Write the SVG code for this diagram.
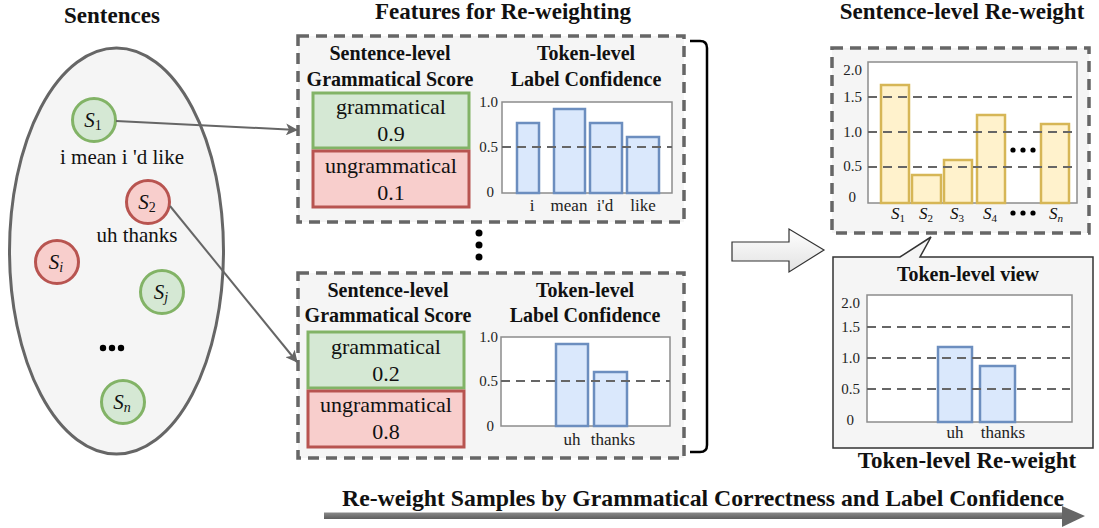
<svg xmlns="http://www.w3.org/2000/svg" width="1099" height="528" viewBox="0 0 1099 528">
  <style>
    .title { font-family: "Liberation Serif", "Times New Roman", serif; font-weight: bold; font-size: 23px; fill: #111; text-anchor: middle; }
    .head { font-family: "Liberation Serif", "Times New Roman", serif; font-weight: bold; font-size: 20px; fill: #111; text-anchor: middle; }
    .body { font-family: "Liberation Serif", "Times New Roman", serif; font-size: 22px; fill: #111; text-anchor: middle; }
    .sent { font-family: "Liberation Serif", "Times New Roman", serif; font-size: 21px; fill: #111; text-anchor: middle; }
    .tick { font-family: "Liberation Serif", "Times New Roman", serif; font-size: 15px; fill: #222; text-anchor: end; }
    .tok { font-family: "Liberation Serif", "Times New Roman", serif; font-size: 17px; fill: #222; text-anchor: middle; }
    .math { font-family: "Liberation Serif", "Times New Roman", serif; font-style: italic; fill: #111; text-anchor: middle; }
    .sub { font-style: normal; }
    .good { fill: #d5e8d4; stroke: #82b366; stroke-width: 3; }
    .bad { fill: #f8cecc; stroke: #b85450; stroke-width: 3; }
    .panel { fill: #f5f5f5; stroke: #666; stroke-width: 3.5; stroke-dasharray: 11 7; }
    .frame { fill: #fff; stroke: #8c8c8c; stroke-width: 1.5; }
    .grid { stroke: #666; stroke-width: 2; stroke-dasharray: 9 6; fill: none; }
    .bar { fill: #dae8fc; stroke: #6c8ebf; stroke-width: 2.5; }
    .wbar { fill: #fff2cc; stroke: #d6b656; stroke-width: 2.5; }
    .link { stroke: #666; stroke-width: 2; fill: none; }
    .dot { fill: #000; }
  </style>
  <defs>
    <marker id="head" viewBox="0 0 12 12" refX="11" refY="6" markerWidth="12" markerHeight="12" markerUnits="userSpaceOnUse" orient="auto">
      <path d="M0,0 L12,6 L0,12 L3,6 Z" fill="#666"/>
    </marker>
    <linearGradient id="blockFill" x1="0" y1="0" x2="0" y2="1">
      <stop offset="0" stop-color="#ffffff"/>
      <stop offset="1" stop-color="#e2e2e2"/>
    </linearGradient>
    <linearGradient id="flowFill" x1="0" y1="0" x2="0" y2="1">
      <stop offset="0" stop-color="#8a8a8a"/>
      <stop offset="1" stop-color="#5e5e5e"/>
    </linearGradient>
  </defs>

  <!-- Sentence pool -->
  <g id="sentences">
    <text class="title" x="112" y="23">Sentences</text>
    <ellipse cx="116.5" cy="251" rx="107" ry="203" fill="#f5f5f5" stroke="#666" stroke-width="3"/>
    <text class="sent" x="122" y="164">i mean i 'd like</text>
    <text class="sent" x="137" y="242">uh thanks</text>
    <circle class="dot" cx="103" cy="348" r="3.2"/>
    <circle class="dot" cx="112" cy="348" r="3.2"/>
    <circle class="dot" cx="121" cy="348" r="3.2"/>
  </g>
  <g id="s1">
    <circle class="good" cx="94" cy="120" r="21.5"/>
    <text class="math" x="93" y="127" font-size="21">S<tspan class="sub" font-size="14" dy="3">1</tspan></text>
  </g>
  <g id="s2">
    <circle class="bad" cx="148" cy="202" r="21.5"/>
    <text class="math" x="147" y="209" font-size="21">S<tspan class="sub" font-size="14" dy="3">2</tspan></text>
  </g>
  <g id="si">
    <circle class="bad" cx="57" cy="262" r="21.5"/>
    <text class="math" x="56" y="269" font-size="21">S<tspan font-size="14" dy="3">i</tspan></text>
  </g>
  <g id="sj">
    <circle class="good" cx="162" cy="292" r="21.5"/>
    <text class="math" x="161" y="299" font-size="21">S<tspan font-size="14" dy="3">j</tspan></text>
  </g>
  <g id="sn">
    <circle class="good" cx="123" cy="402" r="21.5"/>
    <text class="math" x="122" y="409" font-size="21">S<tspan font-size="14" dy="3">n</tspan></text>
  </g>

  <!-- Feature panels -->
  <text class="title" x="503" y="19">Features for Re-weighting</text>
  <g id="features-s1">
    <rect class="panel" x="298" y="36" width="386" height="186"/>
    <text class="head" x="390" y="60">Sentence-level</text>
    <text class="head" x="390" y="86">Grammatical Score</text>
    <text class="head" x="586" y="60">Token-level</text>
    <text class="head" x="586" y="86">Label Confidence</text>
    <rect class="good" x="313" y="93" width="156" height="55"/>
    <text class="body" x="391" y="114">grammatical</text>
    <text class="body" x="391" y="141">0.9</text>
    <rect class="bad" x="313" y="151" width="156" height="56"/>
    <text class="body" x="391" y="173">ungrammatical</text>
    <text class="body" x="391" y="200">0.1</text>
    <rect class="frame" x="502" y="102" width="170" height="91"/>
    <rect class="bar" x="517" y="123" width="22" height="70"/>
    <rect class="bar" x="554" y="109" width="31" height="84"/>
    <rect class="bar" x="590" y="123" width="32" height="70"/>
    <rect class="bar" x="627" y="137" width="32" height="56"/>
    <line class="grid" x1="502" y1="147" x2="672" y2="147"/>
    <text class="tick" x="498" y="107">1.0</text>
    <text class="tick" x="498" y="152">0.5</text>
    <text class="tick" x="494" y="197">0</text>
    <text class="tok" x="532" y="211">i</text>
    <text class="tok" x="569" y="211">mean</text>
    <text class="tok" x="605" y="211">i'd</text>
    <text class="tok" x="643" y="211">like</text>
  </g>
  <g id="features-gap">
    <circle class="dot" cx="479" cy="233" r="3.5"/>
    <circle class="dot" cx="479" cy="245" r="3.5"/>
    <circle class="dot" cx="479" cy="257" r="3.5"/>
  </g>
  <g id="features-s2">
    <rect class="panel" x="298" y="273" width="386" height="185"/>
    <text class="head" x="388" y="297">Sentence-level</text>
    <text class="head" x="388" y="322">Grammatical Score</text>
    <text class="head" x="585" y="297">Token-level</text>
    <text class="head" x="585" y="322">Label Confidence</text>
    <rect class="good" x="308" y="332" width="156" height="56"/>
    <text class="body" x="386" y="354">grammatical</text>
    <text class="body" x="386" y="381">0.2</text>
    <rect class="bad" x="308" y="391" width="156" height="56"/>
    <text class="body" x="386" y="412">ungrammatical</text>
    <text class="body" x="386" y="439">0.8</text>
    <rect class="frame" x="501" y="337" width="169" height="89"/>
    <rect class="bar" x="556" y="344" width="32" height="82"/>
    <rect class="bar" x="594" y="372" width="33" height="54"/>
    <line class="grid" x1="501" y1="381" x2="670" y2="381"/>
    <text class="tick" x="498" y="342">1.0</text>
    <text class="tick" x="498" y="386">0.5</text>
    <text class="tick" x="494" y="431">0</text>
    <text class="tok" x="572" y="445">uh</text>
    <text class="tok" x="613" y="445">thanks</text>
  </g>

  <!-- Sentence-level weights -->
  <g id="sentence-weights">
    <text class="title" x="962" y="19">Sentence-level Re-weight</text>
    <rect class="panel" x="832" y="48" width="257" height="185"/>
    <rect class="frame" x="868" y="62" width="209" height="141"/>
    <rect class="wbar" x="881" y="85" width="28" height="118"/>
    <rect class="wbar" x="912" y="175" width="29" height="28"/>
    <rect class="wbar" x="944" y="160" width="28" height="43"/>
    <rect class="wbar" x="977" y="115" width="28" height="88"/>
    <rect class="wbar" x="1041" y="124" width="28" height="79"/>
    <line class="grid" x1="868" y1="97" x2="1072" y2="97"/>
    <line class="grid" x1="868" y1="132" x2="1072" y2="132"/>
    <line class="grid" x1="868" y1="167" x2="1072" y2="167"/>
    <circle class="dot" cx="1013" cy="150" r="2.6"/>
    <circle class="dot" cx="1023" cy="150" r="2.6"/>
    <circle class="dot" cx="1033" cy="150" r="2.6"/>
    <text class="tick" x="862" y="75">2.0</text>
    <text class="tick" x="862" y="102">1.5</text>
    <text class="tick" x="862" y="137">1.0</text>
    <text class="tick" x="862" y="171">0.5</text>
    <text class="tick" x="856" y="202">0</text>
    <text class="math" x="898" y="219" font-size="17">S<tspan class="sub" font-size="11" dy="3">1</tspan></text>
    <text class="math" x="926" y="219" font-size="17">S<tspan class="sub" font-size="11" dy="3">2</tspan></text>
    <text class="math" x="957" y="219" font-size="17">S<tspan class="sub" font-size="11" dy="3">3</tspan></text>
    <text class="math" x="990" y="219" font-size="17">S<tspan class="sub" font-size="11" dy="3">4</tspan></text>
    <circle class="dot" cx="1013" cy="213" r="2.6"/>
    <circle class="dot" cx="1023" cy="213" r="2.6"/>
    <circle class="dot" cx="1033" cy="213" r="2.6"/>
    <text class="math" x="1056" y="219" font-size="17">S<tspan font-size="11" dy="3">n</tspan></text>
  </g>

  <!-- Token-level callout -->
  <g id="token-weights">
    <path d="M833,257 H900 L931,237 L920,257 H1093 V448 H833 Z" fill="#f5f5f5" stroke="#333" stroke-width="1.5"/>
    <text class="head" x="968" y="281" font-size="19">Token-level view</text>
    <rect class="frame" x="867" y="295" width="205" height="127"/>
    <rect class="bar" x="938" y="347" width="34" height="75"/>
    <rect class="bar" x="980" y="366" width="35" height="56"/>
    <line class="grid" x1="867" y1="327" x2="1070" y2="327"/>
    <line class="grid" x1="867" y1="358" x2="1070" y2="358"/>
    <line class="grid" x1="867" y1="389" x2="1070" y2="389"/>
    <text class="tick" x="860" y="308">2.0</text>
    <text class="tick" x="860" y="332">1.5</text>
    <text class="tick" x="860" y="363">1.0</text>
    <text class="tick" x="860" y="394">0.5</text>
    <text class="tick" x="854" y="425">0</text>
    <text class="tok" x="955" y="438">uh</text>
    <text class="tok" x="1003" y="438">thanks</text>
    <text class="title" x="967" y="468" font-size="22">Token-level Re-weight</text>
  </g>

  <!-- Connectors -->
  <g id="connectors">
    <line class="link" x1="116" y1="121" x2="297" y2="130" marker-end="url(#head)"/>
    <line class="link" x1="170" y1="206" x2="297" y2="362" marker-end="url(#head)"/>
    <path d="M690,41 H700 Q707,41 707,48 V445 Q707,452 700,452 H690" fill="none" stroke="#000" stroke-width="2.5"/>
    <path d="M732,242 H789 V229 L824,250 L789,272 V261 H732 Z" fill="url(#blockFill)" stroke="#333" stroke-width="1.2"/>
  </g>

  <!-- Overall flow -->
  <g id="flow">
    <text class="title" x="703" y="506" font-size="24" textLength="722" lengthAdjust="spacingAndGlyphs">Re-weight Samples by Grammatical Correctness and Label Confidence</text>
    <rect x="324" y="512.5" width="739" height="6.5" fill="url(#flowFill)"/>
    <path d="M1062,506 L1085,516 L1062,527 Z" fill="#666"/>
  </g>
</svg>
